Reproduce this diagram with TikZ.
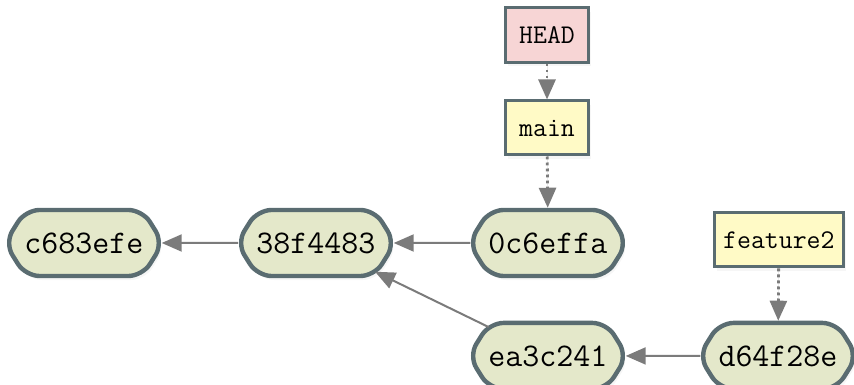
\documentclass[tikz,border=0pt]{standalone}
\usepackage{tikz}
\usetikzlibrary{arrows.meta,positioning,shapes.symbols,shadows}
\definecolor{commitfill}{HTML}{E4E8CA}
\definecolor{slate}{HTML}{5A6C71}
\definecolor{headpink}{HTML}{F7D5D5}
\definecolor{refyellow}{HTML}{FFFAC6}
\definecolor{linkgray}{HTML}{7B7B7B}
\tikzset{
  >={Triangle[length=10pt,width=8.5pt]},
  commit/.style={signal,signal to=west and east,signal pointer angle=116,rounded corners=7pt,
    draw=slate,line width=2.2pt,fill=commitfill,minimum height=33pt,
    inner xsep=-0.5pt,font=\fontsize{16.5}{18}\selectfont\ttfamily,
    drop shadow={shadow xshift=1.2pt,shadow yshift=-2pt,opacity=0.07}},
  branch/.style={rectangle,draw=slate,line width=1.5pt,fill=refyellow,minimum width=41.5pt,minimum height=27pt,
    inner xsep=4.5pt,font=\fontsize{13.5}{15}\selectfont\ttfamily,
    drop shadow={shadow xshift=1.2pt,shadow yshift=-2pt,opacity=0.07}},
  headref/.style={branch,fill=headpink},
  parent/.style={->,line width=1pt,draw=linkgray,fill=linkgray,shorten >=-2pt,shorten <=-2pt},
  points/.style={->,line width=1.4pt,draw=linkgray,fill=linkgray,dash pattern=on 1.4pt off 1.6pt}
}
\begin{document}
\begin{tikzpicture}
  \useasboundingbox (0,0) rectangle (15,6.762);
  \foreach \id/\x/\y in {c683efe/1.475/2.494, 38f4483/5.550/2.494, 0c6effa/9.625/2.494,
                         ea3c241/9.625/0.510, d64f28e/13.665/0.510}
    \node[commit] (\id) at (\x,\y) {\id};
  \node[headref] (HEAD) at (9.608,6.147) {HEAD};
  \node[branch] (main) at (9.608,4.514) {main};
  \node[branch] (feature2) at (13.68,2.547) {feature2};
  \foreach \a/\b in {38f4483/c683efe, 0c6effa/38f4483, ea3c241/38f4483, d64f28e/ea3c241}
    \draw[parent] (\a) -- (\b);
  \draw[points] (HEAD) -- (main);
  \draw[points] (main) -- (0c6effa);
  \draw[points] (feature2) -- (d64f28e);
\end{tikzpicture}
\end{document}
